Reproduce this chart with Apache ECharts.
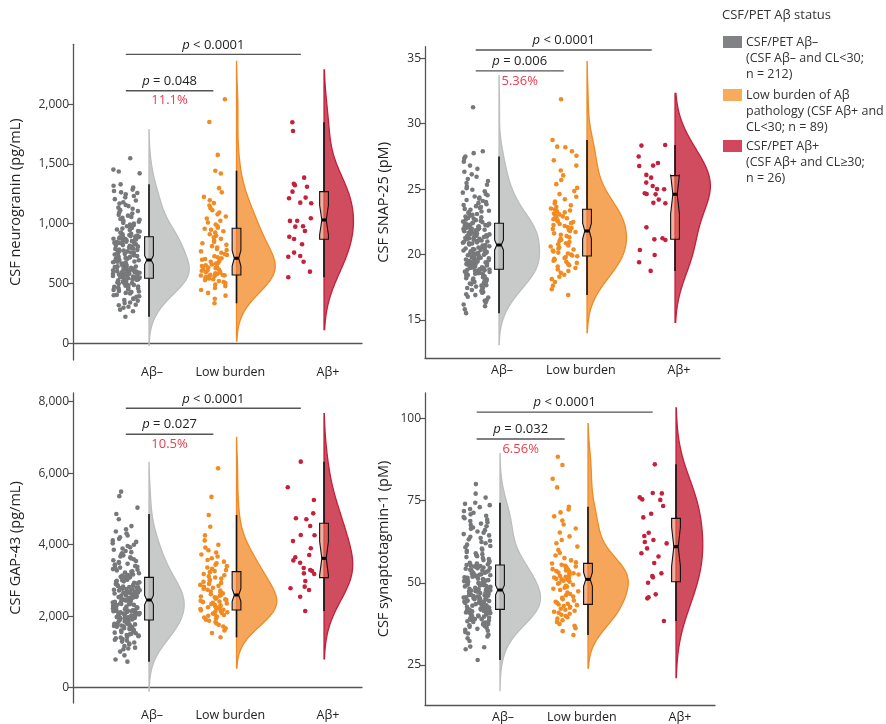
<!DOCTYPE html>
<html><head><meta charset="utf-8">
<script src="https://cdn.jsdelivr.net/npm/echarts@6/dist/echarts.min.js"></script>
<style>html,body{margin:0;padding:0;background:#fff}#c{width:886px;height:724px}</style>
</head><body><div id="c"></div>
<script>
// ---------------- DATA ----------------
const categories = ['Aβ–', 'Low burden', 'Aβ+'];
const groupN = [212, 89, 26];
const legendTitle = 'CSF/PET Aβ status';
const legendLabels = [
  'CSF/PET Aβ–\n(CSF Aβ– and CL<30;\nn = 212)',
  'Low burden of Aβ\npathology (CSF Aβ+ and\nCL<30; n = 89)',
  'CSF/PET Aβ+\n(CSF Aβ+ and CL≥30;\nn = 26)'
];

// Panel 1: CSF neurogranin (pg/mL)
const ngName = 'CSF neurogranin (pg/mL)';
const ngTicks = [0, 500, 1000, 1500, 2000];
const ngNeg = [222,268,281,297,305,318,322,336,341,355,362,371,374,388,393,402,405,417,421,428,433,438,446,449,455,458,463,466,472,475,481,484,488,493,497,499,504,508,510,514,517,520,523,526,529,531,533,536,538,539,541,542,544,
546,549,550,554,557,558,562,565,567,570,573,575,577,581,582,585,588,590,593,595,598,600,603,606,608,611,614,617,619,622,626,628,631,635,637,641,644,647,650,654,656,660,663,667,670,674,677,681,684,688,691,694,696,
699,702,707,710,714,717,721,726,729,735,738,742,746,751,754,759,762,768,771,775,780,783,789,791,797,800,806,808,814,818,821,827,830,833,839,841,847,849,854,858,861,865,868,871,874,877,880,883,885,887,889,890,892,
896,900,905,911,915,922,926,934,939,947,951,959,964,973,978,987,992,1002,1007,1017,1023,1033,1039,1050,1056,1067,1074,1085,1093,1105,1113,1125,1134,1147,1156,1169,1179,1194,1205,1220,1231,1246,1257,1262,1273,1285,1302,1317,1329,1421,1436,1452,1547];
const ngLow = [334,372,398,421,445,462,478,490,503,512,520,528,535,541,547,551,555,559,563,566,568,570,
573,578,584,589,594,600,606,611,617,622,628,634,640,646,652,659,666,673,681,690,698,705,711,
719,728,738,747,757,768,779,789,801,812,824,836,848,860,873,886,899,912,925,937,949,958,
966,978,993,1010,1025,1043,1060,1078,1094,1112,1130,1151,1172,1195,1224,1262,1297,1420,1443,1575,1850,2040];
const ngPos = [1848,1775,1385,1334,1309,1322,1268,1218,1213,1176,1171,1045,1025,1023,975,979,939,891,872,828,758,730,724,682,599,552];
const ngBox = [[222,543,696,891,1329],[334,571,711,962,1443],[552,870,1031,1268,1848]];
const ngP = ['< 0.0001', '= 0.048'];
const ngPct = '11.1%';

// Panel 2: CSF SNAP-25 (pM)
const snName = 'CSF SNAP-25 (pM)';
const snTicks = [15, 20, 25, 30, 35];
const snNeg = [15.52,15.81,16.05,16.18,16.33,16.47,16.52,16.71,16.77,16.9,16.96,17.08,17.13,17.21,17.29,17.36,17.44,17.47,17.55,17.62,17.66,17.74,17.79,17.83,17.91,17.95,18.02,18.06,18.1,18.16,18.19,18.24,18.27,18.33,18.35,18.4,18.43,18.47,18.5,18.53,18.57,18.6,18.62,18.66,18.69,18.71,18.74,18.76,18.79,18.81,18.84,18.86,18.88,
18.91,18.94,18.98,19.01,19.03,19.07,19.1,19.14,19.16,19.2,19.23,19.27,19.29,19.33,19.36,19.4,19.42,19.46,19.49,19.52,19.56,19.58,19.62,19.65,19.69,19.71,19.75,19.78,19.82,19.85,19.88,19.92,19.95,19.99,20.03,20.06,20.1,20.13,20.17,20.2,20.24,20.28,20.31,20.35,20.39,20.42,20.46,20.5,20.54,20.58,20.63,20.68,20.73,
20.77,20.8,20.84,20.86,20.9,20.93,20.97,21.0,21.04,21.07,21.1,21.14,21.17,21.21,21.24,21.27,21.31,21.34,21.37,21.41,21.44,21.47,21.5,21.54,21.57,21.6,21.63,21.67,21.7,21.73,21.76,21.79,21.83,21.86,21.89,21.92,21.95,21.98,22.01,22.04,22.07,22.1,22.13,22.16,22.19,22.22,22.25,22.27,22.3,22.33,22.35,22.37,22.39,
22.43,22.48,22.52,22.57,22.63,22.68,22.74,22.8,22.85,22.91,22.97,23.03,23.1,23.16,23.22,23.29,23.35,23.42,23.49,23.56,23.63,23.7,23.78,23.85,23.93,24.01,24.09,24.17,24.26,24.35,24.44,24.53,24.63,24.73,24.84,24.95,25.07,25.2,25.33,25.47,25.62,25.78,25.95,26.13,26.33,26.55,26.8,27.1,27.35,27.49,27.75,27.9,31.26];
const snLow = [16.91,17.35,17.62,17.9,18.12,18.3,18.46,18.6,18.74,18.86,18.97,19.08,19.18,19.27,19.36,19.44,19.52,19.6,19.67,19.74,19.81,19.87,
19.93,20.0,20.08,20.15,20.23,20.31,20.38,20.46,20.54,20.62,20.7,20.78,20.86,20.95,21.04,21.13,21.22,21.31,21.41,21.51,21.62,21.72,21.8,
21.88,21.95,22.03,22.1,22.18,22.25,22.33,22.4,22.48,22.55,22.62,22.7,22.77,22.84,22.92,22.99,23.07,23.14,23.22,23.3,23.37,23.44,
23.52,23.63,23.76,23.9,24.06,24.23,24.42,24.62,24.85,25.1,25.38,25.7,26.05,26.42,26.8,27.2,27.55,27.9,28.2,28.25,28.76,31.87];
const snPos = [28.33,28.38,27.49,26.77,26.8,26.09,25.88,24.99,24.68,24.6,25.24,25.01,23.92,24.63,23.95,22.08,21.24,21.16,21.11,20.35,19.97,19.41,18.75,25.5,24.2,27.0];
const snBox = [[15.52,18.88,20.73,22.39,27.49],[16.91,19.89,21.8,23.46,28.76],[18.75,21.17,24.61,26.03,28.38]];
const snP = ['< 0.0001', '= 0.006'];
const snPct = '5.36%';

// Panel 3: CSF GAP-43 (pg/mL)
const gpName = 'CSF GAP-43 (pg/mL)';
const gpTicks = [0, 2000, 4000, 6000, 8000];
const gpNeg = [728,790,905,1010,1075,1098,1120,1165,1210,1238,1265,1290,1318,1340,1362,1385,1402,1421,1440,1458,1475,1492,1508,1524,1540,1555,1569,1584,1598,1611,1624,1637,1650,1662,1674,1686,1697,1708,1719,1729,1740,1750,1760,1770,1780,1790,1800,1810,1822,1835,1852,1870,1894,
1902,1909,1925,1931,1948,1953,1970,1975,1992,2001,2008,2024,2030,2045,2051,2077,2080,2088,2101,2112,2114,2129,2140,2143,2161,2166,2182,2192,2197,2214,2218,2235,2246,2250,2269,2271,2290,2294,2311,2317,2334,2340,2356,2361,2379,2383,2400,2405,2421,2428,2437,2447,2453,
2462,2470,2483,2490,2502,2511,2520,2534,2541,2553,2560,2574,2582,2590,2604,2611,2625,2633,2640,2655,2662,2676,2684,2697,2705,2718,2727,2739,2748,2760,2771,2783,2795,2806,2818,2831,2843,2856,2868,2880,2893,2907,2919,2933,2946,2960,2974,2989,3003,3019,3040,3062,3087,
3101,3118,3134,3150,3168,3185,3203,3222,3240,3259,3278,3298,3318,3338,3359,3380,3401,3423,3446,3469,3492,3516,3541,3566,3592,3618,3645,3673,3702,3731,3761,3792,3824,3857,3891,3926,3962,3999,4038,4078,4120,4164,4210,4259,4312,4368,4430,4520,4710,4859,5036,5358,5483];
const gpLow = [1409,1530,1598,1660,1712,1758,1800,1838,1872,1905,1935,1962,1988,2012,2035,2056,2076,2094,2112,2130,2147,2163,
2181,2199,2216,2234,2251,2268,2285,2303,2321,2339,2357,2376,2394,2413,2432,2451,2470,2490,2510,2531,2552,2573,2593,
2612,2638,2662,2689,2715,2741,2768,2795,2822,2849,2876,2904,2932,2961,2990,3020,3050,3081,3113,3146,3180,3232,
3262,3290,3325,3362,3400,3440,3482,3526,3572,3620,3670,3724,3782,3846,3918,4000,4120,4260,4500,4831,5337,6136];
const gpPos = [6323,5605,5250,4877,4738,4712,4523,4271,4265,3712,3647,3497,3292,3264,3199,3180,2985,2780,2733,2826,2546,2146,3900,3560,4100,3350];
const gpBox = [[728,1894,2453,3087,4859],[1409,2173,2593,3246,4831],[2146,3078,3619,4598,6323]];
const gpP = ['< 0.0001', '= 0.027'];
const gpPct = '10.5%';

// Panel 4: CSF synaptotagmin-1 (pM)
const stName = 'CSF synaptotagmin-1 (pM)';
const stTicks = [25, 50, 75, 100];
const stNeg = [26.52,29.8,30.4,30.6,32.3,33.1,33.7,34.2,34.6,35.0,35.4,35.7,36.0,36.3,36.6,36.8,37.1,37.3,37.5,37.7,37.9,38.1,38.3,38.5,38.7,38.9,39.0,39.2,39.4,39.5,39.7,39.8,40.0,40.1,40.3,40.4,40.5,40.7,40.8,40.9,41.0,41.1,41.2,41.3,41.4,41.5,41.55,41.6,41.7,41.75,41.8,41.85,41.92,
42.0,42.1,42.2,42.35,42.45,42.55,42.7,42.8,42.9,43.05,43.15,43.25,43.4,43.5,43.6,43.75,43.85,43.95,44.1,44.2,44.3,44.45,44.55,44.65,44.8,44.9,45.0,45.15,45.25,45.35,45.5,45.6,45.7,45.85,45.95,46.05,46.2,46.3,46.4,46.55,46.65,46.75,46.9,47.0,47.1,47.25,47.35,47.45,47.55,47.65,47.7,47.75,47.8,
47.9,48.05,48.2,48.3,48.45,48.6,48.75,48.9,49.0,49.15,49.3,49.45,49.6,49.75,49.9,50.05,50.2,50.35,50.5,50.65,50.8,50.95,51.1,51.25,51.4,51.55,51.7,51.85,52.0,52.15,52.3,52.45,52.6,52.75,52.9,53.05,53.2,53.35,53.5,53.65,53.8,53.95,54.1,54.25,54.4,54.5,54.65,54.8,54.95,55.05,55.2,55.3,55.4,
55.6,55.85,56.1,56.35,56.6,56.9,57.2,57.5,57.8,58.1,58.4,58.7,59.0,59.35,59.7,60.05,60.4,60.8,61.2,61.6,62.0,62.4,62.8,63.2,63.6,64.0,64.4,64.8,65.2,65.6,66.0,66.4,66.8,67.2,67.6,68.0,68.4,68.8,69.2,69.6,70.0,70.4,70.8,71.3,71.8,72.4,73.0,73.6,74.0,74.34,75.9,77.1,80.0];
const stLow = [34.12,35.3,36.2,36.9,37.5,38.1,38.6,39.1,39.5,39.9,40.3,40.6,40.9,41.2,41.5,41.8,42.1,42.4,42.7,42.95,43.2,43.4,
43.6,43.9,44.2,44.6,45.0,45.4,45.8,46.2,46.6,47.0,47.4,47.8,48.2,48.5,48.8,49.1,49.4,49.7,50.0,50.3,50.6,50.9,51.04,
51.2,51.4,51.6,51.85,52.05,52.25,52.5,52.7,52.9,53.1,53.35,53.55,53.75,53.95,54.15,54.35,54.55,54.75,54.95,55.2,55.5,55.85,
56.2,56.8,57.5,58.3,59.1,60.0,61.0,62.0,63.0,64.1,65.3,66.5,67.7,68.9,70.2,71.4,72.3,73.13,79.0,81.6,85.8,88.3];
const stPos = [86.0,77.18,77.3,75.35,75.96,75.2,73.33,69.88,65.22,64.21,63.0,62.4,60.46,61.98,52.05,51.65,50.02,52.86,46.48,45.26,45.6,38.37,58.0,56.0,59.0,71.0];
const stBox = [[26.52,41.92,47.8,55.4,74.34],[34.12,43.44,51.04,55.9,73.13],[38.37,50.33,60.97,69.58,86.0]];
const stP = ['< 0.0001', '= 0.032'];
const stPct = '6.56%';

// ---------------- STYLE / LAYOUT ----------------
const FONT = "'Open Sans', 'DejaVu Sans', sans-serif";
const pointColors = ['#77787a', '#f18b22', '#c5203c'];
const violinFill = ['#c8c9c9', '#f6a65b', '#d04d60'];
const violinStroke = ['#bcbdbd', '#f08a24', '#c31f3b'];
const boxFill = ['rgba(175,175,175,0.55)', 'rgba(230,120,60,0.55)', 'rgba(232,110,80,0.55)'];
const legendColors = ['#808285', '#f9ab5c', '#d2475d'];

const PANELS = [
  {name: ngName, ticks: ngTicks, values: [ngNeg, ngLow, ngPos], box: ngBox, p: ngP, pct: ngPct, comma: true},
  {name: snName, ticks: snTicks, values: [snNeg, snLow, snPos], box: snBox, p: snP, pct: snPct, comma: false},
  {name: gpName, ticks: gpTicks, values: [gpNeg, gpLow, gpPos], box: gpBox, p: gpP, pct: gpPct, comma: true},
  {name: stName, ticks: stTicks, values: [stNeg, stLow, stPos], box: stBox, p: stP, pct: stPct, comma: false}
];
const LAYOUT = [
  {grid: {left: 73, top: 44.3, width: 289, height: 315.7}, x: [0.1314, 3.434], y: [-140, 2500], bracketY: [2416, 2112], nameGap: 50},
  {grid: {left: 425, top: 46.7, width: 295, height: 311.3}, x: [0.159, 3.511], y: [12.09, 35.89], bracketY: [35.64, 34.04], nameGap: 34},
  {grid: {left: 73, top: 393, width: 289, height: 310}, x: [0.1314, 3.434], y: [-428, 8243], bracketY: [7815, 7088], nameGap: 50},
  {grid: {left: 425, top: 393, width: 290, height: 312}, x: [0.148, 3.443], y: [12.84, 107.7], bracketY: [101.9, 93.7], nameGap: 34}
];
const LABEL_POS = [1.035, 1.93, 3.045]; // category label anchors (slightly offset as in the figure)
const JIT_CENTER = -0.26, JIT_WIDTH = 0.31, VIOLIN_W = 0.46, BOX_HW = 0.05, BRACKET_OFF = -0.265;
const KDE_ADJUST = 1.5, KDE_CUT = 3;

// ---------------- HELPERS ----------------
function quantile(sorted, p) {
  const h = (sorted.length - 1) * p, lo = Math.floor(h), hi = Math.ceil(h);
  return sorted[lo] + (sorted[hi] - sorted[lo]) * (h - lo);
}
function nrd0(arr) {
  const n = arr.length, mean = arr.reduce((a, b) => a + b, 0) / n;
  const sd = Math.sqrt(arr.reduce((a, b) => a + (b - mean) * (b - mean), 0) / (n - 1));
  const s = arr.slice().sort((a, b) => a - b);
  const iqr = quantile(s, 0.75) - quantile(s, 0.25);
  return 0.9 * Math.min(sd, iqr / 1.34) * Math.pow(n, -0.2);
}
function kde(arr) {
  const bw0 = nrd0(arr), bw = bw0 * KDE_ADJUST;
  const lo = Math.min(...arr) - KDE_CUT * bw0, hi = Math.max(...arr) + KDE_CUT * bw0;
  const out = [], M = 200, c = 1 / (arr.length * bw * Math.sqrt(2 * Math.PI));
  for (let j = 0; j <= M; j++) {
    const y = lo + (hi - lo) * j / M;
    let s = 0;
    for (const v of arr) { const z = (y - v) / bw; s += Math.exp(-0.5 * z * z); }
    out.push([y, s * c]);
  }
  return out;
}
// deterministic layout jitter (horizontal spread only)
function jit(i, g) {
  let x = Math.imul(i + 1, 0x9E3779B1) ^ Math.imul(g + 7, 0x85EBCA77);
  x ^= x >>> 15; x = Math.imul(x, 0x2C1B3C6D); x ^= x >>> 12; x = Math.imul(x, 0x297A2D39); x ^= x >>> 15;
  return (x >>> 0) / 4294967296;
}
const fmtComma = v => Math.round(v).toLocaleString('en-US');

// ---------------- OPTION ----------------
const option = {
  animation: false,
  textStyle: {fontFamily: FONT},
  grid: [], xAxis: [], yAxis: [], series: [], graphic: []
};

PANELS.forEach((P, k) => {
  const L = LAYOUT[k];
  option.grid.push(Object.assign({containLabel: false}, L.grid));
  option.xAxis.push({
    type: 'value', gridIndex: k, min: L.x[0], max: L.x[1],
    axisLine: {show: true, lineStyle: {color: '#555', width: 1.3}},
    axisTick: {show: false}, splitLine: {show: false},
    axisLabel: {customValues: LABEL_POS, formatter: v => categories[Math.round(v) - 1] || '',
      color: '#222', fontSize: 12.5, margin: 6, fontFamily: FONT}
  });
  option.yAxis.push({
    type: 'value', gridIndex: k, min: L.y[0], max: L.y[1],
    name: P.name, nameLocation: 'middle', nameGap: L.nameGap,
    nameTextStyle: {fontSize: 14.5, color: '#222', fontFamily: FONT},
    axisLine: {show: true, lineStyle: {color: '#555', width: 1.3}},
    axisTick: {show: true, length: 5, customValues: P.ticks, lineStyle: {color: '#555', width: 1.2}},
    splitLine: {show: false},
    axisLabel: {customValues: P.ticks, formatter: v => P.comma ? fmtComma(v) : String(v),
      color: '#333', fontSize: 12, margin: 4, fontFamily: FONT}
  });

  // violins (KDE, area-scaled within panel)
  const dens = P.values.map(kde);
  const maxD = Math.max(...dens.map(d => Math.max(...d.map(p => p[1]))));
  const violins = dens.map(d => d.map(([y, v]) => [y, v / maxD * VIOLIN_W]));

  option.series.push({
    type: 'custom', xAxisIndex: k, yAxisIndex: k, silent: true, z: 2,
    data: [[0], [1], [2]],
    renderItem: (params, api) => {
      const g = api.value(0), cat = g + 1, vio = violins[g], b = P.box[g], n = groupN[g];
      const poly = [api.coord([cat, vio[0][0]])];
      vio.forEach(([y, w]) => poly.push(api.coord([cat + w, y])));
      poly.push(api.coord([cat, vio[vio.length - 1][0]]));
      const iqr = b[3] - b[1], nd = 1.58 * iqr / Math.sqrt(n);
      const nl = b[2] - nd, nu = b[2] + nd, hw = BOX_HW, ind = hw * 0.5;
      const bx = [[cat - hw, b[3]], [cat - hw, nu], [cat - hw + ind, b[2]], [cat - hw, nl], [cat - hw, b[1]],
                  [cat + hw, b[1]], [cat + hw, nl], [cat + hw - ind, b[2]], [cat + hw, nu], [cat + hw, b[3]]].map(p => api.coord(p));
      const w0 = api.coord([cat, b[0]]), w1 = api.coord([cat, b[1]]), w3 = api.coord([cat, b[3]]), w4 = api.coord([cat, b[4]]);
      const m0 = api.coord([cat - hw + ind, b[2]]), m1 = api.coord([cat + hw - ind, b[2]]);
      return {type: 'group', children: [
        {type: 'polygon', shape: {points: poly}, style: {fill: violinFill[g], stroke: violinStroke[g], lineWidth: 1.3}},
        {type: 'line', shape: {x1: w0[0], y1: w0[1], x2: w1[0], y2: w1[1]}, style: {stroke: '#111', lineWidth: 1.6}},
        {type: 'line', shape: {x1: w3[0], y1: w3[1], x2: w4[0], y2: w4[1]}, style: {stroke: '#111', lineWidth: 1.6}},
        {type: 'polygon', shape: {points: bx}, style: {fill: boxFill[g], stroke: '#111', lineWidth: 1.1}},
        {type: 'line', shape: {x1: m0[0], y1: m0[1], x2: m1[0], y2: m1[1]}, style: {stroke: '#000', lineWidth: 3}}
      ]};
    }
  });

  // jittered points
  P.values.forEach((arr, g) => {
    option.series.push({
      type: 'scatter', name: legendLabels[g], xAxisIndex: k, yAxisIndex: k, z: 3, silent: true,
      symbolSize: 4.6, itemStyle: {color: pointColors[g], opacity: 1},
      data: arr.map((v, i) => [g + 1 + JIT_CENTER + (jit(i, g + 3 * k) - 0.5) * JIT_WIDTH, v])
    });
  });

  // significance brackets
  const brackets = [
    {from: 1, to: 3, y: L.bracketY[0], p: P.p[0]},
    {from: 1, to: 2, y: L.bracketY[1], p: P.p[1], pct: P.pct}
  ];
  option.series.push({
    type: 'custom', xAxisIndex: k, yAxisIndex: k, silent: true, z: 4, clip: false,
    data: [[0], [1]],
    renderItem: (params, api) => {
      const B = brackets[api.value(0)];
      const a = api.coord([B.from + BRACKET_OFF, B.y]), c = api.coord([B.to + BRACKET_OFF, B.y]);
      const mx = (a[0] + c[0]) / 2;
      const kids = [
        {type: 'line', shape: {x1: a[0], y1: a[1], x2: c[0], y2: c[1]}, style: {stroke: '#555', lineWidth: 1.4}},
        {type: 'text', x: mx, y: a[1] - 9.5, style: {text: '{i|p} ' + B.p, align: 'center', verticalAlign: 'middle',
          fontSize: 13, fill: '#222', fontFamily: FONT,
          rich: {i: {fontStyle: 'italic', fontSize: 13, fill: '#222', fontFamily: FONT}}}}
      ];
      if (B.pct) kids.push({type: 'text', x: mx, y: a[1] + 10, style: {text: B.pct, align: 'center', verticalAlign: 'middle',
        fontSize: 13, fill: '#e5404f', fontFamily: FONT}});
      return {type: 'group', children: kids};
    }
  });
});

// legend (drawn as graphic so swatches align to the first text line)
option.graphic.push({type: 'text', x: 722, y: 9, style: {text: legendTitle, fontSize: 13, fill: '#333', fontFamily: FONT}});
const legendTops = [34, 87, 138];
legendLabels.forEach((t, g) => {
  option.graphic.push({type: 'rect', shape: {x: 723, y: legendTops[g] + 2, width: 19, height: 12}, style: {fill: legendColors[g]}});
  option.graphic.push({type: 'text', x: 746, y: legendTops[g], style: {text: t, fontSize: 12.5, lineHeight: 16, fill: '#333', fontFamily: FONT}});
});

const chart = echarts.init(document.getElementById('c'), null, {renderer: 'canvas'});
chart.setOption(option);
</script></body></html>
